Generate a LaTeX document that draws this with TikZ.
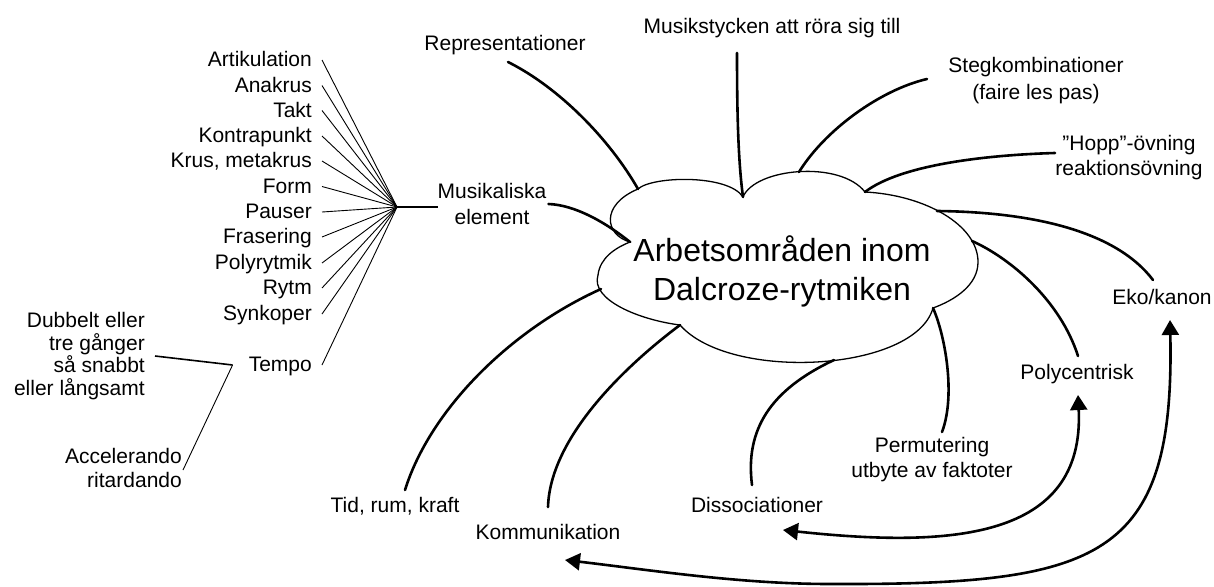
\documentclass[tikz,border=0pt]{standalone}
\usepackage{fontspec}
\setmainfont{Liberation Sans}
\usetikzlibrary{arrows.meta}
\begin{document}
\begin{tikzpicture}[x=1pt,y=-1pt,
  lbl/.style={inner sep=0pt, font=\fontsize{21}{25.4}\selectfont},
  one/.style={lbl, text height=13pt, text depth=0pt},
  conn/.style={line width=2.6pt, line cap=round},
  fan/.style={line width=0.9pt},
  cloudline/.style={line width=1.3pt, line join=miter},
  bi/.style={line width=2.6pt, {Triangle[length=15pt,width=17pt]}-{Triangle[length=15pt,width=17pt]}},
]
\fill[white] (0,0) rectangle (1214,586);
\useasboundingbox (0,0) rectangle (1214,586);

% ---------- cloud ----------
\coordinate (cA) at (630,242);
\coordinate (cB) at (638,189);
\coordinate (cC) at (743,197);
\coordinate (cD) at (865,192);
\coordinate (cR) at (978,262);
\coordinate (cE) at (933,308);
\coordinate (cF) at (680,325);
\coordinate (cL) at (598,275);
\draw[cloudline] (cA) .. controls (605,235) and (600,205) .. (cB)
  .. controls (652,176) and (728,174) .. (cC)
  .. controls (755,168) and (840,160) .. (cD)
  .. controls (925,195) and (978,225) .. (cR)
  .. controls (978,285) and (955,300) .. (cE)
  .. controls (915,372) and (730,382) .. (cF)
  .. controls (640,320) and (590,300) .. (cL)
  .. controls (600,258) and (615,248) .. (cA) -- cycle;
\node[inner sep=0pt, align=center, font=\fontsize{32}{39}\selectfont] (title) at (782,271) {Arbetsområden inom\\Dalcroze-rytmiken};

% attachment points on the cloud
\coordinate (cSteg) at (799,172);
\coordinate (cEko) at (937,211);
\coordinate (cPoly) at (972,241);
\coordinate (cDis) at (834,360);
\coordinate (cTid) at (601,289);

% ---------- labels ----------
\node[one] (rep) at (505,44) {Representationer};
\node[one] (mst) at (772,27) {Musikstycken att röra sig till};
\node[lbl, align=center, font=\fontsize{21}{26.7}\selectfont] (steg) at (1036,80.5) {Stegkombinationer\\(faire les pas)};
\node[lbl, align=center] (hopp) at (1129,157.7) {”Hopp”-övning\\reaktionsövning};
\node[one] (eko) at (1162,298) {Eko/kanon};
\node[one] (poly) at (1077,373) {Polycentrisk};
\node[lbl, align=center] (perm) at (932,459.7) {Permutering\\utbyte av faktoter};
\node[one] (dis) at (757,506) {Dissociationer};
\node[one] (komm) at (548,533) {Kommunikation};
\node[one] (tid) at (395,506) {Tid, rum, kraft};
\node[lbl, align=center] (musel) at (492,204) {Musikaliska\\element};

% free ends of the connectors
\coordinate (eRep) at (508,62);
\coordinate (eMst) at (737,53);
\coordinate (eSteg) at (927,79);
\coordinate (eHopp) at (1055,153);
\coordinate (eEko) at (1153,280);
\coordinate (ePoly) at (1078,356);
\coordinate (ePerm) at (942,432);
\coordinate (eDis) at (752,485);
\coordinate (eKomm) at (548,507);
\coordinate (eTid) at (405,490);

\draw[conn] ([xshift=2pt]musel.east) .. controls (575,205) and (605,222) .. (cA);
\draw[conn] (eRep) .. controls (560,88) and (610,140) .. (cB);
\draw[conn] (eMst) .. controls (737,110) and (738,160) .. (cC);
\draw[conn] (eSteg) .. controls (880,90) and (825,130) .. (cSteg);
\draw[conn] (eHopp) .. controls (985,155) and (900,165) .. (cD);
\draw[conn] (cEko) .. controls (1030,212) and (1115,230) .. (eEko);
\draw[conn] (cPoly) .. controls (1010,258) and (1060,300) .. (ePoly);
\draw[conn] (cE) .. controls (945,335) and (956,395) .. (ePerm);
\draw[conn] (cDis) .. controls (770,390) and (745,430) .. (eDis);
\draw[conn] (cF) .. controls (620,370) and (550,440) .. (eKomm);
\draw[conn] (cTid) .. controls (510,330) and (430,410) .. (eTid);

% ---------- double arrows ----------
\coordinate (aDis) at (783,530);
\coordinate (aPoly) at (1078,395);
\coordinate (aKomm) at (565,560);
\coordinate (aBot) at (830,584);
\coordinate (aEko) at (1170,320);
\draw[bi] (aDis) .. controls (950,548) and (1085,540) .. (aPoly);
\draw[bi] (aKomm) .. controls (650,570) and (740,584) .. (aBot) .. controls (1100,585) and (1175,560) .. (aEko);

% ---------- musical elements fan ----------
\coordinate (hub) at (397,207);
\draw[conn, line cap=butt] (hub) -- (musel.west |- hub);
\node[one, anchor=east] (i1) at (312,60) {Artikulation};
\node[one, anchor=east] (i2) at (312,85.5) {Anakrus};
\node[one, anchor=east] (i3) at (312,110.5) {Takt};
\node[one, anchor=east] (i4) at (312,136) {Kontrapunkt};
\node[one, anchor=east] (i5) at (312,161) {Krus, metakrus};
\node[one, anchor=east] (i6) at (312,186.5) {Form};
\node[one, anchor=east] (i7) at (312,212) {Pauser};
\node[one, anchor=east] (i8) at (312,237) {Frasering};
\node[one, anchor=east] (i9) at (312,263) {Polyrytmik};
\node[one, anchor=east] (i10) at (312,288) {Rytm};
\node[one, anchor=east] (i11) at (312,314) {Synkoper};
\node[one, anchor=east] (tempo) at (312,365) {Tempo};
\foreach \n in {i1,i2,i3,i4,i5,i6,i7,i8,i9,i10,i11,tempo}
  \draw[fan] ([xshift=10pt]\n.east) -- (hub);

% ---------- tempo branches ----------
\node[lbl, align=right, anchor=east, font=\fontsize{21}{22.7}\selectfont] (dub) at (145,356) {Dubbelt eller\\tre gånger\\så snabbt\\eller långsamt};
\node[lbl, align=right, anchor=east, font=\fontsize{21}{24}\selectfont] (acc) at (182,468) {Accelerando\\ritardando};
\coordinate (tj) at ([xshift=-16pt]tempo.west);
\draw[line width=1.6pt] ([xshift=10pt]dub.east) -- (tj);
\draw[line width=0.9pt] (tj) -- ([xshift=1pt,yshift=-2pt]acc.east);
\end{tikzpicture}
\end{document}
